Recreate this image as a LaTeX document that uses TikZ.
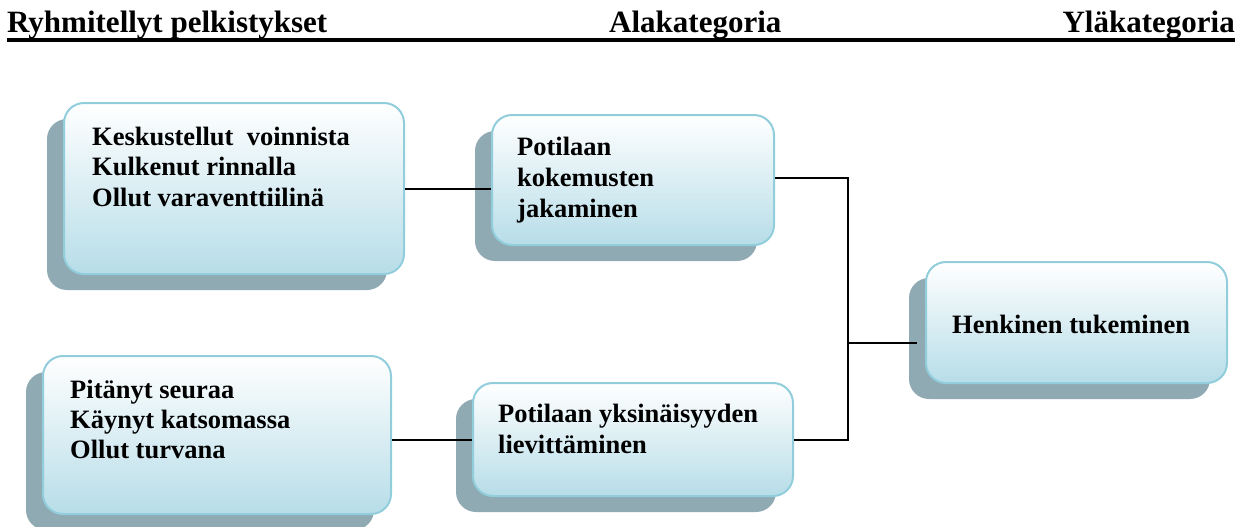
\documentclass[tikz,border=0pt]{standalone}
\usepackage{fontspec}
\setmainfont{Liberation Serif}
\usetikzlibrary{shadows,calc}
\definecolor{shadowc}{RGB}{143,170,178}
\definecolor{borderc}{RGB}{146,205,220}
\definecolor{fillbot}{RGB}{183,221,232}
\tikzset{
  catbox/.style={draw=borderc, line width=2pt, rounded corners=20pt,
    top color=white, bottom color=fillbot, anchor=north west, inner sep=0pt,
    general shadow={fill=shadowc, shadow xshift=-17pt, shadow yshift=-16pt}},
  boxtext/.style={anchor=base west, inner sep=0pt, font=\fontsize{26.5}{31}\selectfont\bfseries},
  headtext/.style={inner sep=0pt, font=\fontsize{31}{36}\selectfont\bfseries},
  conn/.style={draw=black, line width=2pt},
}
\begin{document}
\begin{tikzpicture}[x=1pt,y=-1pt]
\useasboundingbox (0,0) rectangle (1243,527);
% header
\node[headtext, anchor=base west] (h1) at (7,33) {Ryhmitellyt pelkistykset};
\node[headtext, anchor=base west] (h2) at (609,33) {Alakategoria};
\node[headtext, anchor=base east] (h3) at (1235,33) {Yläkategoria};
\coordinate (ul1) at (7,40);
\coordinate (ul2) at (1235,40);
\draw[line width=3.5pt] (ul1) -- (ul2);
% boxes
\node[catbox, minimum width=340pt, minimum height=171pt] (b1) at (63,102) {};
\node[catbox, minimum width=282pt, minimum height=130pt] (b2) at (491,114) {};
\node[catbox, minimum width=348pt, minimum height=158pt] (b3) at (42,355) {};
\node[catbox, minimum width=320pt, minimum height=113pt] (b4) at (472,382) {};
\node[catbox, minimum width=301pt, minimum height=121pt] (b5) at (925,261) {};
% texts
\node[boxtext] (t1) at (92,145) {\vtop{\baselineskip=31pt\hbox{Keskustellut\ \ voinnista}\hbox{Kulkenut rinnalla}\hbox{Ollut varaventtiilinä}}};
\node[boxtext] (t2) at (517,155) {\vtop{\baselineskip=31pt\hbox{Potilaan}\hbox{kokemusten}\hbox{jakaminen}}};
\node[boxtext] (t3) at (70,398) {\vtop{\baselineskip=30pt\hbox{Pitänyt seuraa}\hbox{Käynyt katsomassa}\hbox{Ollut turvana}}};
\node[boxtext] (t4) at (498,422) {\vtop{\baselineskip=31pt\hbox{Potilaan yksinäisyyden}\hbox{lievittäminen}}};
\node[boxtext] (t5) at (952,333) {Henkinen tukeminen};
% connectors
\coordinate (busx) at (848,0);
\draw[conn] (b1.east) -- (b1.east -| b2.west);
\draw[conn] (b3.east |- b4.west) -- (b4.west);
\draw[conn] ([yshift=2pt]b2.east) -- ([yshift=2pt]b2.east -| busx) -- (b4.east -| busx) -- (b4.east);
\draw[conn] ([yshift=-20pt]b5.west -| busx) -- ([xshift=-8pt,yshift=-20pt]b5.west);
\end{tikzpicture}
\end{document}
